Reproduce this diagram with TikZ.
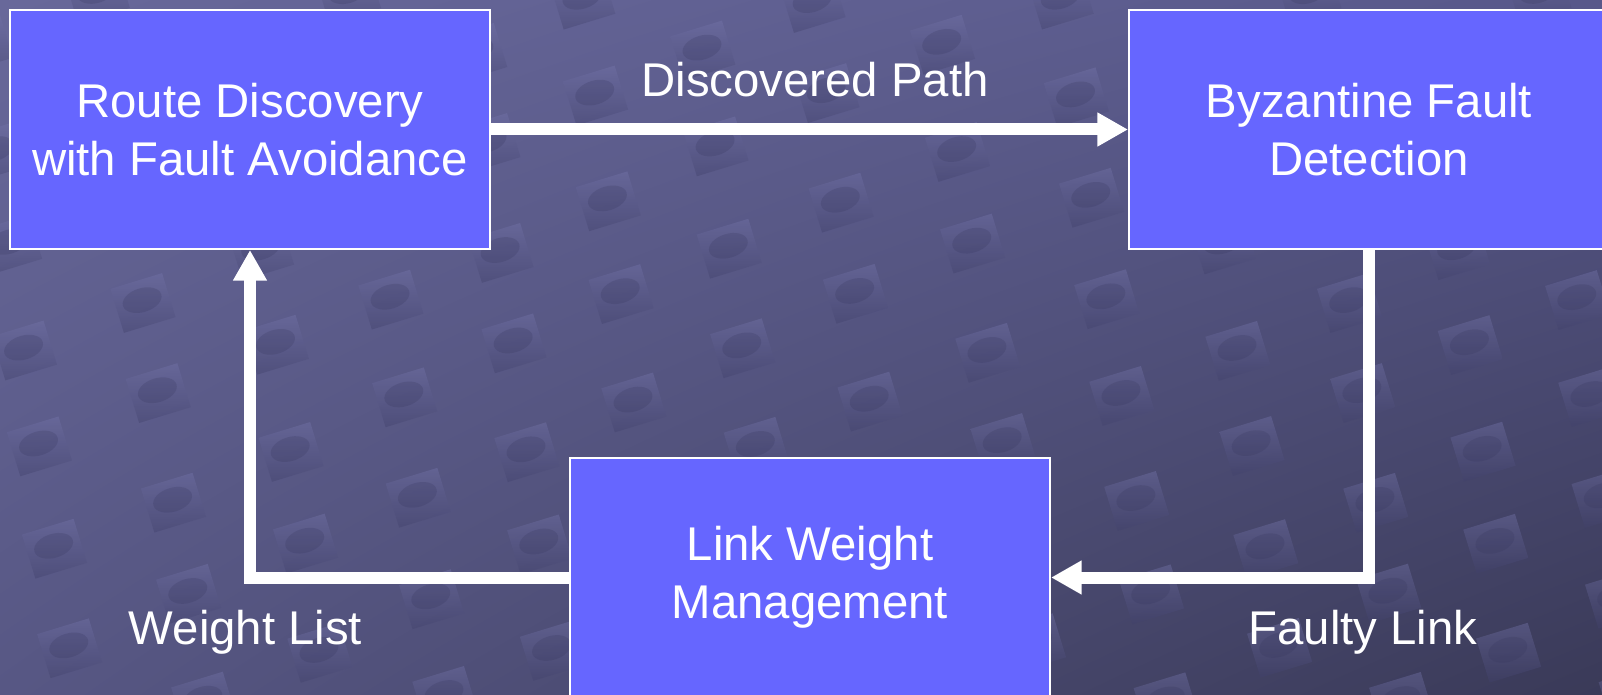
\documentclass[tikz,border=0pt]{standalone}
\usepackage{fontspec}
\setmainfont{Liberation Sans}
\usetikzlibrary{arrows.meta,shadings}
\definecolor{boxblue}{HTML}{6666FF}
\definecolor{bgUL}{HTML}{68689A}
\definecolor{bgUR}{HTML}{58588A}
\definecolor{bgLL}{HTML}{575784}
\definecolor{bgLR}{HTML}{3A3A58}
\definecolor{tileL}{HTML}{7676AC}
\definecolor{tileD}{HTML}{40406A}
\definecolor{tileE}{HTML}{34345A}
\tikzset{
  bigtext/.style={font=\fontsize{35.5pt}{43.5pt}\selectfont, text=white, align=center},
  box/.style={bigtext, draw=white, line width=1.5pt, fill=boxblue, inner sep=0pt,
    minimum width=360pt, minimum height=179.25pt},
  lbl/.style={bigtext, anchor=base, inner sep=0pt},
  arr/.style={draw=white, line width=9pt, line join=miter,
    -{Triangle[length=23pt,width=24pt]}},
  bgtile/.pic={
    \shade[top color=tileL, bottom color=tileD, opacity=.4] (-27,-23) rectangle (27,23);
    \fill[tileE, opacity=.22] (0,-3) ellipse [x radius=20, y radius=12];
  }
}
\begin{document}
\begin{tikzpicture}[x=0.75pt,y=-0.75pt]
\useasboundingbox (0,0) rectangle (1602,695);
\begin{scope}
\clip (0,0) rectangle (1602,695);
\shade[upper left=bgUL, upper right=bgUR, lower left=bgLL, lower right=bgLR]
  (0,0) rectangle (1602,695);
\foreach \j in {-6,...,8}{
  \foreach \i in {-5,...,9}{
    \pgfmathsetmacro\tx{143+\i*240+\j*127+8*sin(\i*97+\j*53)}
    \pgfmathsetmacro\ty{298+\j*50+5*cos(\i*71+\j*131)}
    \pic[rotate=17] at (\tx,\ty) {bgtile};
  }
}
\node[box] (b1) at (250,129.5) {Route Discovery\\with Fault Avoidance};
\node[box] (b2) at (1369,129.5) {Byzantine Fault\\Detection};
\node[box] (b3) at (810,577.5) {Link Weight\\Management};
\draw[arr] (b1.east) -- (b2.west);
\draw[arr] (b2.south) |- (b3.east);
\draw[arr] (b3.west) -| (b1.south);
\node[lbl] (l1) at (815,97) {Discovered Path};
\node[lbl] (l2) at (245.5,644) {Weight List};
\node[lbl] (l3) at (1363,644) {Faulty Link};
\end{scope}
\end{tikzpicture}
\end{document}
